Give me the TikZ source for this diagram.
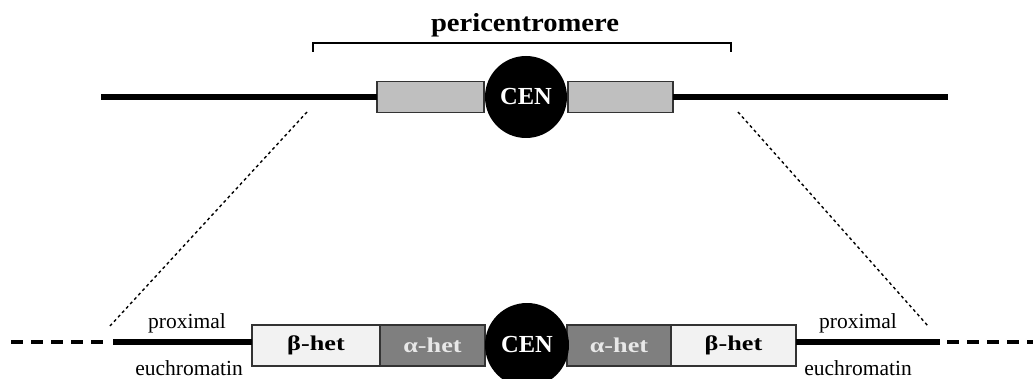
\documentclass[tikz,border=0pt]{standalone}
\usepackage{fontspec}
\setmainfont{Liberation Serif}
\definecolor{blockgray}{HTML}{BFBFBF}
\definecolor{betafill}{HTML}{F2F2F2}
\definecolor{alphafill}{HTML}{7F7F7F}
\definecolor{edgegray}{HTML}{333333}
\definecolor{alphatext}{HTML}{E8E8E8}
\begin{document}
\begin{tikzpicture}[x=1pt,y=-1pt,
  blk/.style={draw=edgegray, line width=1.1pt, inner sep=0pt, outer sep=0pt},
  cen/.style={circle, fill=black, inner sep=0pt, text=white,
    font=\fontsize{24.5}{26}\selectfont\bfseries},
  chrom/.style={line width=6.5pt},
  tail/.style={line width=3.5pt, dash pattern=on 12pt off 8pt},
  zoomline/.style={line width=1.4pt, dash pattern=on 3pt off 3pt},
  lbl/.style={font=\fontsize{21.5}{24}\selectfont, inner sep=0pt},
  hetlbl/.style={font=\fontsize{21}{24}\selectfont\bfseries},
]
\useasboundingbox (0,0) rectangle (1033,379);

% ---- upper chromosome ----
\coordinate (tA) at (101,97);
\coordinate (tB) at (948,97);
\node[blk, fill=blockgray, minimum width=107pt, minimum height=31pt] (tl) at (430.5,97) {};
\node[blk, fill=blockgray, minimum width=105pt, minimum height=31pt] (tr) at (620.5,97) {};
\draw[chrom] (tA) -- (tl.west);
\draw[chrom] (tr.east) -- (tB);
\node[cen, minimum size=82pt] (tcen) at (526,97) {CEN};

% pericentromere bracket
\coordinate (bl) at (313,52);
\coordinate (bt) at (731,43);
\coordinate (br) at (731,52);
\draw[line width=1.5pt] (bl) |- (bt) -- (br);
\node[font=\fontsize{26}{28}\selectfont\bfseries, anchor=base, inner sep=0pt] (peri)
  at (525,32) {\scalebox{1.1}[1]{pericentromere}};

% zoom guides
\coordinate (d1) at (307,112);
\coordinate (d2) at (110,326);
\coordinate (d3) at (738,112);
\coordinate (d4) at (928,326);
\draw[zoomline] (d1) -- (d2);
\draw[zoomline] (d3) -- (d4);

% ---- lower, expanded view ----
\node[blk, fill=betafill, minimum width=128pt, minimum height=41pt, hetlbl] (bL) at (316,345.5) {\scalebox{1.25}[1]{β-het}};
\node[blk, fill=alphafill, minimum width=105pt, minimum height=41pt, hetlbl, text=alphatext] (aL) at (432.5,345.5) {\scalebox{1.25}[1]{α-het}};
\node[blk, fill=alphafill, minimum width=104pt, minimum height=41pt, hetlbl, text=alphatext] (aR) at (619,345.5) {\scalebox{1.25}[1]{α-het}};
\node[blk, fill=betafill, minimum width=125pt, minimum height=41pt, hetlbl] (bR) at (733.5,345.5) {\scalebox{1.25}[1]{β-het}};
\node[cen, minimum size=84pt] (bcen) at (527,345) {CEN};

\coordinate (eL) at (113,342);
\coordinate (eR) at (940,342);
\coordinate (dL1) at (11,342);
\coordinate (dL2) at (107,342);
\coordinate (dR1) at (947,342);
\coordinate (dR2) at (1033,342);
\draw[chrom] (eL) -- (bL.west |- eL);
\draw[chrom] (bR.east |- eR) -- (eR);
\draw[tail] (dL1) -- (dL2);
\draw[tail] (dR1) -- (dR2);

\node[lbl, anchor=base] (pxL) at (187,328) {proximal};
\node[lbl, anchor=base] (euL) at (189,375) {euchromatin};
\node[lbl, anchor=base] (pxR) at (858,328) {proximal};
\node[lbl, anchor=base] (euR) at (858,375) {euchromatin};
\end{tikzpicture}
\end{document}
